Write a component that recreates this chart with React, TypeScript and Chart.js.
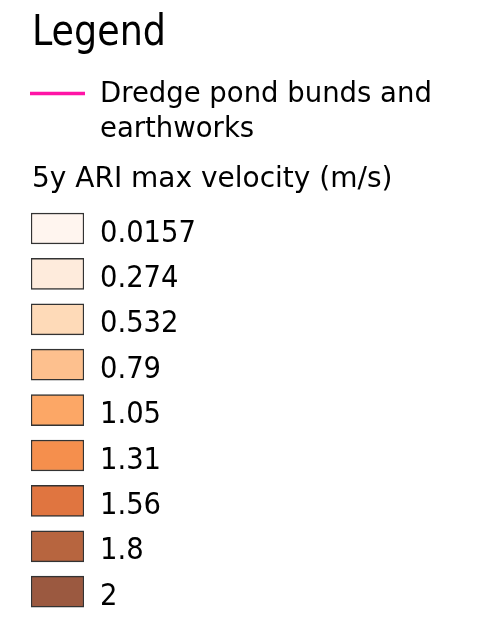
import { useEffect, useRef } from "react";
import { Chart, registerables } from "chart.js";

Chart.register(...registerables);

const legendTitle = "Legend";
const lineLabel = ["Dredge pond bunds and", "earthworks"];
const lineColor = "#ff14a6";
const rampTitle = "5y ARI max velocity (m/s)";
const classLabels = ["0.0157", "0.274", "0.532", "0.79", "1.05", "1.31", "1.56", "1.8", "2"];
const classColors = ["#fff5ef", "#feebdc", "#fedab8", "#fdc08e", "#fca766", "#f58f4d", "#e07540", "#b7653f", "#9b5940"];
const swatchLength = [1, 1, 1, 1, 1, 1, 1, 1, 1];

const COND = "'DejaVu Sans Condensed', 'DejaVu Sans', sans-serif";
const REG = "'DejaVu Sans', sans-serif";

const textPlugin = {
  id: "legendText",
  afterDraw(chart: any) {
    const ctx = chart.ctx;
    ctx.save();
    ctx.fillStyle = "#000";
    ctx.textBaseline = "alphabetic";
    ctx.textAlign = "left";
    ctx.font = `42px ${COND}`;
    ctx.fillText(legendTitle, 32, 45, 134);
    ctx.strokeStyle = lineColor;
    ctx.lineWidth = 3.5;
    ctx.beginPath();
    ctx.moveTo(30, 93.5);
    ctx.lineTo(85, 93.5);
    ctx.stroke();
    ctx.font = `27.5px ${REG}`;
    ctx.fillText(lineLabel[0], 100, 102, 334);
    ctx.fillText(lineLabel[1], 100, 137);
    ctx.font = `28px ${REG}`;
    ctx.fillText(rampTitle, 32, 187, 365);
    ctx.font = `30.5px ${COND}`;
    const meta = chart.getDatasetMeta(0);
    meta.data.forEach((bar: any, i: number) => {
      ctx.fillText(classLabels[i], 100, bar.y + 13);
    });
    ctx.restore();
  },
};

export default function App() {
  const ref = useRef<HTMLCanvasElement>(null);
  useEffect(() => {
    const chart = new Chart(ref.current!, {
      type: "bar",
      data: {
        labels: classLabels,
        datasets: [
          {
            data: swatchLength,
            backgroundColor: classColors,
            borderColor: "#333",
            borderWidth: 1.5,
            borderSkipped: false,
            barThickness: 31,
          },
        ],
      },
      options: {
        indexAxis: "y",
        animation: false,
        responsive: false,
        events: [],
        layout: { padding: { left: 31, right: 393, top: 205.8, bottom: 3.6 } },
        scales: {
          x: { display: false, min: 0, max: 1 },
          y: { display: false },
        },
        plugins: { legend: { display: false }, tooltip: { enabled: false } },
      },
      plugins: [textPlugin],
    });
    return () => chart.destroy();
  }, []);
  return (
    <div style={{ position: "fixed", left: 0, top: 0, width: 477, height: 618, background: "#fff" }}>
      <canvas ref={ref} width={477} height={618} style={{ display: "block", width: 477, height: 618 }} />
    </div>
  );
}
